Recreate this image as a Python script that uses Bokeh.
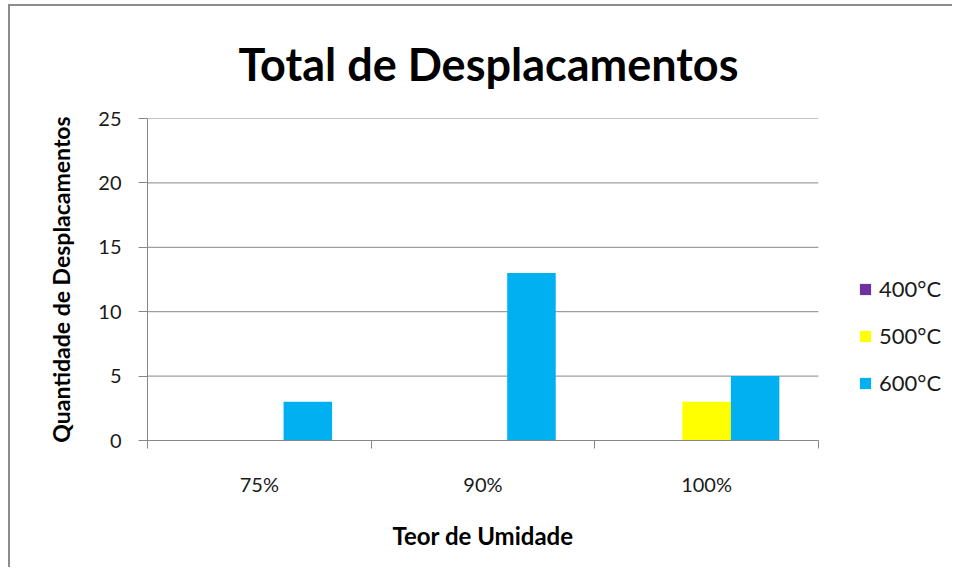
from bokeh.plotting import figure
from bokeh.models import (Range1d, LinearAxis, FixedTicker, Title,
                          Legend, LegendItem, ColumnDataSource)
from bokeh.transform import dodge
from bokeh.embed import file_html
from bokeh.resources import INLINE

categories = ["75%", "90%", "100%"]
series_names = ["400°C", "500°C", "600°C"]
values_400 = [0, 0, 0]
values_500 = [0, 0, 3]
values_600 = [3, 13, 5]
colors = ["#7030A0", "#FFFF00", "#00B0F0"]
y_ticks = [0, 5, 10, 15, 20, 25]

FONT = "Lato"
GRAY = "#878787"
TXT = "#1a1a1a"

n = len(categories)
centers = [i + 0.5 for i in range(n)]
src = ColumnDataSource(dict(xc=centers, cat=categories, v400=values_400, v500=values_500, v600=values_600))
grid_src = ColumnDataSource(dict(y=y_ticks, x0=[0] * len(y_ticks), x1=[n] * len(y_ticks)))

# the frame extends to the right to hold the legend; the category area is 0..n
X_EXTRA = 1.185

p = figure(width=944, height=563, x_range=Range1d(0, n * X_EXTRA), y_range=Range1d(0, 25),
           output_backend="svg", toolbar_location=None, x_axis_location=None,
           y_axis_location=None,
           min_border_left=137, min_border_right=12, min_border_top=111, min_border_bottom=129)
p.title.text = "Total de Desplacamentos"
p.title.text_font = FONT
p.title.text_font_size = "45px"
p.title.text_font_style = "bold"
p.title.text_color = "#000000"
p.title.align = "left"
p.title.offset = 91
p.title.standoff = 56
p.outline_line_color = None
p.styles = {"border-left": "2px solid #8c8c8c", "border-top": "2px solid #8c8c8c",
            "margin": "4px 0 0 8px"}
p.xgrid.visible = False
p.ygrid.visible = False

# horizontal grid lines over the category area
p.segment(x0="x0", x1="x1", y0="y", y1="y", source=grid_src, line_color=GRAY, line_width=1)

# y axis
yax = LinearAxis(ticker=FixedTicker(ticks=y_ticks), axis_label="Quantidade de Desplacamentos")
yax.axis_line_color = GRAY
yax.major_tick_line_color = GRAY
yax.major_tick_out = 9
yax.major_tick_in = 0
yax.minor_tick_line_color = None
yax.major_label_text_font = FONT
yax.major_label_text_font_size = "20px"
yax.major_label_text_color = TXT
yax.major_label_standoff = 17
yax.axis_label_text_font = FONT
yax.axis_label_text_font_size = "23px"
yax.axis_label_text_font_style = "bold"
yax.axis_label_text_color = "#000000"
yax.axis_label_standoff = 20
p.add_layout(yax, "left")

# x axis: labels at category centres, ticks at category boundaries
xax = LinearAxis(ticker=FixedTicker(ticks=centers, minor_ticks=list(range(n + 1))),
                 bounds=(0, n))
xax.major_label_overrides = {c: lab for c, lab in zip(centers, categories)}
xax.axis_line_color = GRAY
xax.major_tick_line_color = None
xax.minor_tick_line_color = GRAY
xax.minor_tick_out = 8
xax.minor_tick_in = 0
xax.major_label_text_font = FONT
xax.major_label_text_font_size = "20px"
xax.major_label_text_color = TXT
xax.major_label_standoff = 23
p.add_layout(xax, "below")

# x axis title, centred under the category area
xtitle = Title(text="Teor de Umidade", text_font=FONT, text_font_size="24px",
               text_font_style="bold", text_color="#000000", align="left",
               offset=245, standoff=40)
p.add_layout(xtitle, "below")

w = 0.217
renderers = []
for i, (col, name) in enumerate(zip(["v400", "v500", "v600"], series_names)):
    r = p.vbar(x=dodge("xc", (i - 1) * w), top=col, width=w, bottom=0,
               source=src, fill_color=colors[i], line_color=None)
    renderers.append(r)

legend = Legend(items=[LegendItem(label=nm, renderers=[r]) for nm, r in zip(series_names, renderers)],
                location=(711, 44))
legend.label_text_font = FONT
legend.label_text_font_size = "22px"
legend.label_text_color = TXT
legend.glyph_width = 14
legend.glyph_height = 14
legend.label_height = 20
legend.spacing = 20
legend.padding = 0
legend.margin = 0
legend.border_line_color = None
legend.background_fill_alpha = 0
legend.label_standoff = 7
p.add_layout(legend)

open("out.html", "w").write(file_html(p, INLINE))
